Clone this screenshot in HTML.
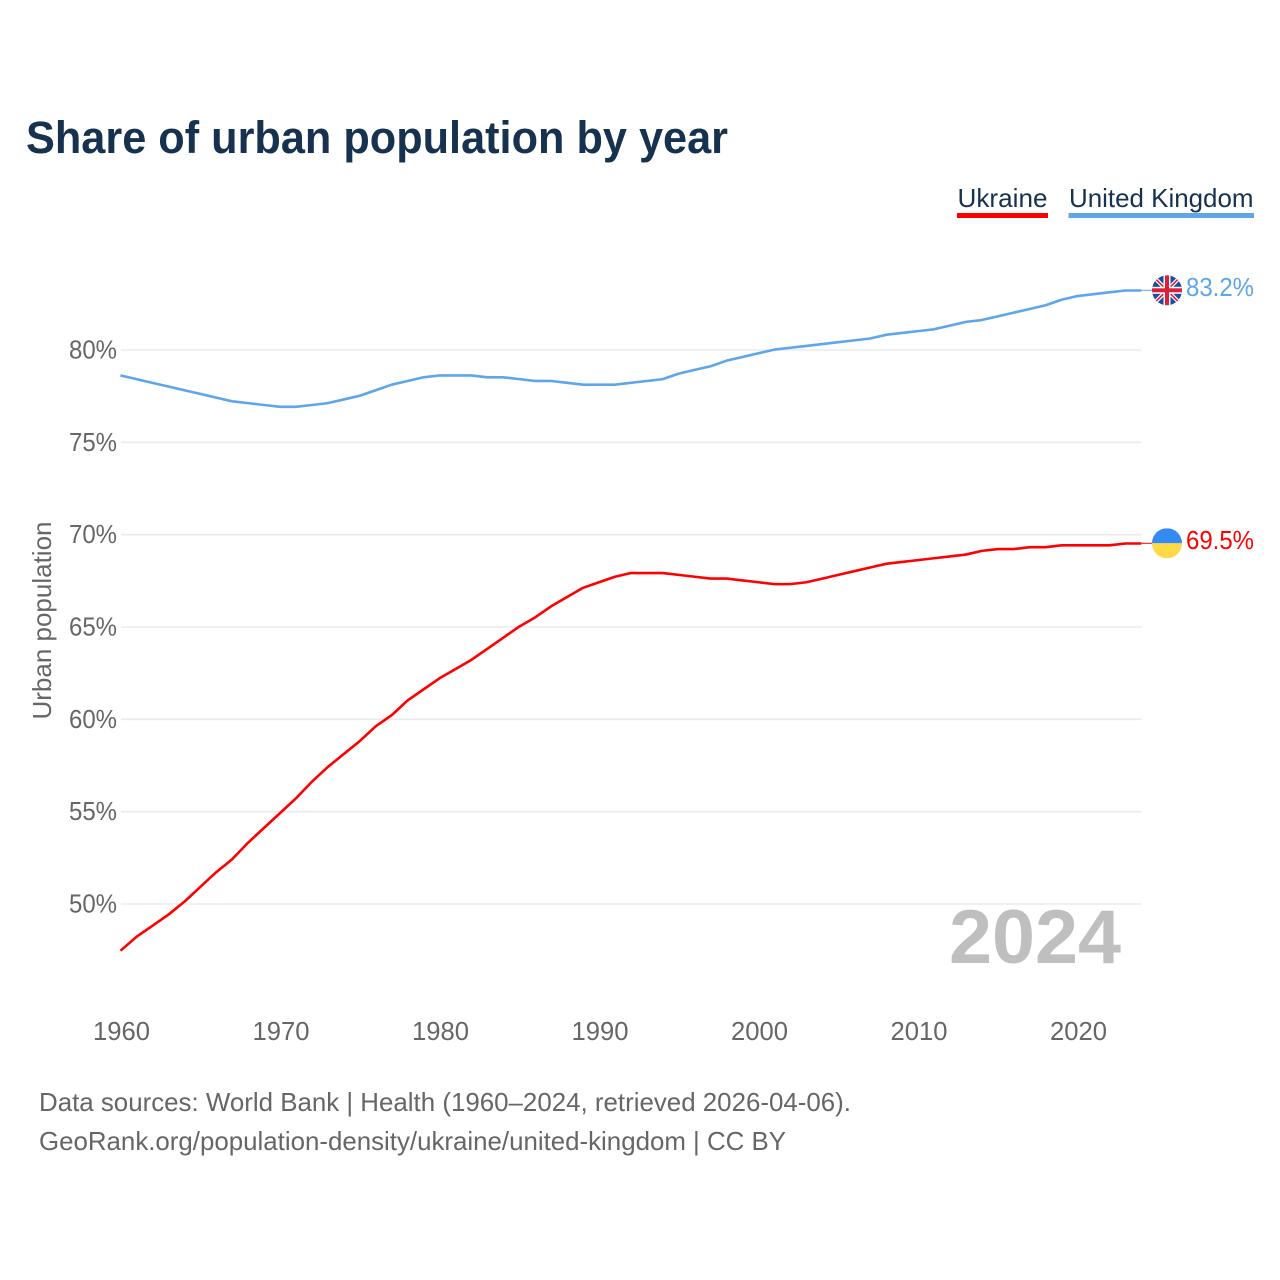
<!DOCTYPE html>
<html lang="en">
<head>
<meta charset="utf-8">
<title>Share of urban population by year</title>
<style>
html,body{margin:0;padding:0;background:#fff;width:1280px;height:1280px;overflow:hidden}
svg{display:block}
text{font-family:"Liberation Sans",sans-serif}
</style>
</head>
<body>
<svg id="chart" xmlns="http://www.w3.org/2000/svg" width="1280" height="1280" viewBox="0 0 1280 1280">
  <defs>
    <clipPath id="flag-clip-uk"><circle id="clip-uk-circle" r="15"/></clipPath>
    <clipPath id="flag-clip-ua"><circle id="clip-ua-circle" r="15"/></clipPath>
  </defs>
  <text x="26" y="153" font-size="45" font-weight="700" fill="#17324f" textLength="702" lengthAdjust="spacingAndGlyphs">Share of urban population by year</text>

  <text x="957.5" y="207" font-size="26" fill="#17324f" textLength="90" lengthAdjust="spacingAndGlyphs">Ukraine</text>
  <rect x="957" y="213" width="91" height="5" fill="#ff0000"/>
  <text x="1069" y="207" font-size="26" fill="#17324f" textLength="184.500" lengthAdjust="spacingAndGlyphs">United Kingdom</text>
  <rect x="1068.500" y="213" width="185.500" height="5" fill="#5fa5ec"/>

  <g id="grid"></g>
  <g id="yticks"></g>
  <g id="xticks"></g>

  <text transform="translate(51,620.500) rotate(-90)" text-anchor="middle" font-size="26" fill="#666666" textLength="198" lengthAdjust="spacingAndGlyphs">Urban population</text>

  <text x="1121" y="963" text-anchor="end" font-size="76" font-weight="700" fill="#bfbfbf" textLength="172" lengthAdjust="spacingAndGlyphs">2024</text>

  <path id="line-uk" fill="none" stroke="#5fa5ec" stroke-width="2.600" stroke-linejoin="round"/>
  <path id="line-ua" fill="none" stroke="#ff0000" stroke-width="2.600" stroke-linejoin="round"/>
  <line id="conn-uk" stroke="#5fa5ec" stroke-width="1"/>
  <line id="conn-ua" stroke="#ff0000" stroke-width="1"/>

  <g id="flag-uk">
    <g clip-path="url(#flag-clip-uk)">
      <rect x="-15" y="-15" width="30" height="30" fill="#1a4da0"/>
      <line x1="-15" y1="-15" x2="15" y2="15" stroke="#ffffff" stroke-width="4"/>
      <line x1="15" y1="-15" x2="-15" y2="15" stroke="#ffffff" stroke-width="4"/>
      <line x1="-15" y1="-15" x2="15" y2="15" stroke="#d8203a" stroke-width="1.600"/>
      <line x1="15" y1="-15" x2="-15" y2="15" stroke="#d8203a" stroke-width="1.600"/>
      <rect x="-3.500" y="-15" width="7" height="30" fill="#ffffff"/>
      <rect x="-15" y="-3.500" width="30" height="7" fill="#ffffff"/>
      <rect x="-2" y="-15" width="4" height="30" fill="#d8203a"/>
      <rect x="-15" y="-2" width="30" height="4" fill="#d8203a"/>
    </g>
  </g>
  <g id="flag-ua">
    <g clip-path="url(#flag-clip-ua)">
      <rect x="-15" y="-15" width="30" height="15" fill="#338af3"/>
      <rect x="-15" y="0" width="30" height="15" fill="#ffda44"/>
    </g>
  </g>

  <text id="value-uk" x="1186" font-size="26" fill="#5fa5ec" textLength="68" lengthAdjust="spacingAndGlyphs"></text>
  <text id="value-ua" x="1186" font-size="26" fill="#ff0000" textLength="68" lengthAdjust="spacingAndGlyphs"></text>

  <text x="39" y="1111" font-size="26" fill="#666666" textLength="812" lengthAdjust="spacingAndGlyphs">Data sources: World Bank | Health (1960–2024, retrieved 2026-04-06).</text>
  <text x="39" y="1150" font-size="26" fill="#666666" textLength="747" lengthAdjust="spacingAndGlyphs">GeoRank.org/population-density/ukraine/united-kingdom | CC BY</text>
</svg>
<script>
const firstYear = 1960;
const ukraineValues = [47.45,48.2,48.8,49.4,50.1,50.9,51.7,52.4,53.3,54.1,54.9,55.7,56.6,57.4,58.1,58.8,59.6,60.2,61.0,61.6,62.2,62.7,63.2,63.8,64.4,65.0,65.5,66.1,66.6,67.1,67.4,67.7,67.9,67.9,67.9,67.8,67.7,67.6,67.6,67.5,67.4,67.3,67.3,67.4,67.6,67.8,68.0,68.2,68.4,68.5,68.6,68.7,68.8,68.9,69.1,69.2,69.2,69.3,69.3,69.4,69.4,69.4,69.4,69.5,69.5];
const ukValues = [78.6,78.4,78.2,78.0,77.8,77.6,77.4,77.2,77.1,77.0,76.9,76.9,77.0,77.1,77.3,77.5,77.8,78.1,78.3,78.5,78.6,78.6,78.6,78.5,78.5,78.4,78.3,78.3,78.2,78.1,78.1,78.1,78.2,78.3,78.4,78.7,78.9,79.1,79.4,79.6,79.8,80.0,80.1,80.2,80.3,80.4,80.5,80.6,80.8,80.9,81.0,81.1,81.3,81.5,81.6,81.8,82.0,82.2,82.4,82.7,82.9,83.0,83.1,83.2,83.2];
const yTickValues = [50,55,60,65,70,75,80];
const xTickYears = [1960,1970,1980,1990,2000,2010,2020];

const NS = 'http://www.w3.org/2000/svg';
function xScale(year){ return 120.5 + (year - 1960) * 15.95; }
function yScale(v){ return 904 - (v - 50) * 18.467; }
function linePath(values){
  return values.map(function(v,i){
    return (i ? 'L' : 'M') + xScale(firstYear + i).toFixed(2) + ' ' + (yScale(v) - 0.4).toFixed(2);
  }).join(' ');
}
function make(tag, attrs, parent, txt){
  const el = document.createElementNS(NS, tag);
  Object.keys(attrs).forEach(function(k){ el.setAttribute(k, attrs[k]); });
  if (txt !== undefined) el.textContent = txt;
  parent.appendChild(el);
  return el;
}
const grid = document.getElementById('grid');
const yticks = document.getElementById('yticks');
const xticks = document.getElementById('xticks');
yTickValues.forEach(function(v){
  const ln = make('line', {x1:121, x2:1141.5, y1:yScale(v), y2:yScale(v), stroke:'#ebebeb', 'stroke-width':1.6}, grid);
  
  
  const t = make('text', {x:117, y:yScale(v)+8.5, 'text-anchor':'end', 'font-size':26, fill:'#666666', textLength:48, lengthAdjust:'spacingAndGlyphs'}, yticks, v + '%');
  
  
});
xTickYears.forEach(function(y){
  const t = make('text', {x:xScale(y)+1, y:1040, 'text-anchor':'middle', 'font-size':26, fill:'#666666', textLength:57, lengthAdjust:'spacingAndGlyphs'}, xticks, String(y));
  
  
});
document.getElementById('line-uk').setAttribute('d', linePath(ukValues));
document.getElementById('line-ua').setAttribute('d', linePath(ukraineValues));

function endMarks(key, values){
  const last = values[values.length - 1];
  const ey = yScale(last) - 0.6;
  const c = document.getElementById('conn-' + key);
  c.setAttribute('x1', xScale(firstYear + values.length - 1));
  c.setAttribute('x2', 1152);
  c.setAttribute('y1', ey);
  c.setAttribute('y2', ey);
  document.getElementById('flag-' + key).setAttribute('transform', 'translate(1167,' + ey.toFixed(2) + ')');
  document.getElementById('clip-' + key + '-circle').setAttribute('r', 15);
  const label = document.getElementById('value-' + key);
  label.setAttribute('y', (ey + 5.6).toFixed(2));
  label.textContent = last.toFixed(1) + '%';
}
endMarks('uk', ukValues);
endMarks('ua', ukraineValues);
</script>
</body>
</html>
